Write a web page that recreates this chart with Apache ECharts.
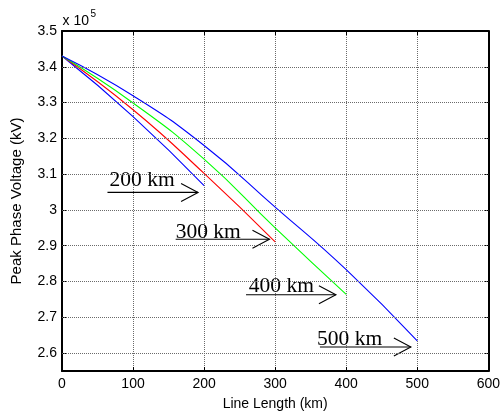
<!DOCTYPE html>
<html>
<head>
<meta charset="utf-8">
<script src="https://cdn.jsdelivr.net/npm/echarts@6/dist/echarts.min.js"></script>
<style>
  html, body { margin: 0; padding: 0; background: #fff; }
  #chart { width: 503px; height: 416px; }
</style>
</head>
<body>
<div id="chart"></div>
<script>
// Line length (km) at which each curve is sampled
const lengthKm = [0, 100, 200, 300, 400, 500];

// Peak phase voltage along the line, in units of 10^5 (one array per line length)
const voltage200 = [3.43, 3.261, 3.068];
const voltage300 = [3.43, 3.280, 3.102, 2.911];
const voltage400 = [3.43, 3.299, 3.142, 2.950, 2.764];
const voltage500 = [3.43, 3.319, 3.180, 3.008, 2.833, 2.634];

// Axis ranges and tick values
const xMin = 0, xMax = 600, xStep = 100;
const yMin = 2.55, yMax = 3.5;
const yTicks = [2.6, 2.7, 2.8, 2.9, 3, 3.1, 3.2, 3.3, 3.4, 3.5];

// Arrow annotations: label, label left x, label centre y, shaft start x, tip x, shaft y (data units)
const annotLabels = ['200 km', '300 km', '400 km', '500 km'];
const annotTextX  = [67, 160, 263, 359];
const annotTextY  = [3.084, 2.937, 2.787, 2.639];
const annotShaftX = [64, 160, 259, 363];
const annotTipX   = [191.5, 292, 385.5, 491];
const annotShaftY = [3.049, 2.918, 2.763, 2.617];

const sans = '"Liberation Sans", Arial, sans-serif';
const serif = '"Liberation Serif", "Times New Roman", serif';

function pairs(ys) {
  return ys.map((v, i) => [lengthKm[i], v]);
}

const chart = echarts.init(document.getElementById('chart'), null, { renderer: 'canvas' });

const tickStyle = { show: true, inside: true, length: 4, lineStyle: { color: '#000', width: 1 } };
const boxLine = { show: true, onZero: false, lineStyle: { color: '#000', width: 2 } };
const gridDots = { color: '#6a6a6a', width: 1, type: [1, 1] };

const annotData = annotLabels.map((_, i) => [annotTextX[i], annotTextY[i], annotShaftX[i], annotTipX[i], annotShaftY[i]]);

function curve(data, color) {
  return {
    type: 'line', data: data, symbol: 'none',
    smooth: 0.5,
    lineStyle: { color: color, width: 1.1 }, itemStyle: { color: color }
  };
}

chart.setOption({
  animation: false,
  backgroundColor: '#fff',
  grid: { left: 62, right: 12, top: 31, bottom: 45, containLabel: false },
  xAxis: [
    {
      type: 'value', min: xMin, max: xMax, interval: xStep,
      name: 'Line Length (km)', nameLocation: 'middle', nameGap: 26,
      nameTextStyle: { fontFamily: sans, fontSize: 14, color: '#000' },
      axisLine: boxLine,
      axisTick: tickStyle,
      axisLabel: { fontFamily: sans, fontSize: 14, color: '#000', margin: 6 },
      splitLine: { show: true, showMinLine: false, showMaxLine: false, lineStyle: gridDots }
    },
    {
      type: 'value', position: 'top', min: xMin, max: xMax, interval: xStep,
      axisLine: boxLine, axisTick: tickStyle,
      axisLabel: { show: false }, splitLine: { show: false }
    }
  ],
  yAxis: [
    {
      type: 'value', min: yMin, max: yMax,
      name: 'Peak Phase Voltage (kV)', nameLocation: 'middle', nameGap: 38,
      nameTextStyle: { fontFamily: sans, fontSize: 15, color: '#000' },
      axisLine: boxLine,
      axisTick: Object.assign({ customValues: yTicks }, tickStyle),
      axisLabel: { customValues: yTicks, fontFamily: sans, fontSize: 14, color: '#000', margin: 5 },
      splitLine: { show: false }
    },
    {
      type: 'value', position: 'right', min: yMin, max: yMax,
      axisLine: boxLine,
      axisTick: Object.assign({ customValues: yTicks }, tickStyle),
      axisLabel: { show: false }, splitLine: { show: false }
    }
  ],
  graphic: [
    { type: 'text', x: 62.5, y: 21, style: { text: 'x 10', font: '14px ' + sans, fill: '#000', verticalAlign: 'middle' } },
    { type: 'text', x: 90.5, y: 14, style: { text: '5', font: '10px ' + sans, fill: '#000', verticalAlign: 'middle' } }
  ],
  series: [
    {
      // horizontal grid lines at the labelled voltage ticks
      type: 'line', data: [], silent: true,
      markLine: {
        silent: true, symbol: 'none', animation: false,
        label: { show: false },
        lineStyle: gridDots,
        emphasis: { disabled: true },
        data: yTicks.filter(v => v < yMax).map(v => ({ yAxis: v }))
      }
    },
    curve(pairs(voltage200), '#0000ff'),
    curve(pairs(voltage300), '#ff0000'),
    curve(pairs(voltage400), '#00ff00'),
    curve(pairs(voltage500), '#0000ff'),
    {
      // labelled arrows pointing at the end of each line
      type: 'custom', silent: true, clip: false,
      data: annotData,
      renderItem: function (params, api) {
        const t = api.coord([api.value(0), api.value(1)]);
        const s0 = api.coord([api.value(2), api.value(4)]);
        const s1 = api.coord([api.value(3), api.value(4)]);
        const headLen = 17, headHalf = 9;
        const stroke = { stroke: '#000', lineWidth: 1.1 };
        return {
          type: 'group',
          children: [
            { type: 'line', shape: { x1: s0[0], y1: s0[1], x2: s1[0], y2: s1[1] }, style: stroke },
            { type: 'polyline', shape: { points: [[s1[0] - headLen, s1[1] - headHalf], [s1[0], s1[1]], [s1[0] - headLen, s1[1] + headHalf]] }, style: Object.assign({ fill: null }, stroke) },
            { type: 'text', x: t[0], y: t[1], style: { text: annotLabels[params.dataIndex], font: '21.5px ' + serif, fill: '#000', align: 'left', verticalAlign: 'middle' } }
          ]
        };
      }
    }
  ]
});
</script>
</body>
</html>
